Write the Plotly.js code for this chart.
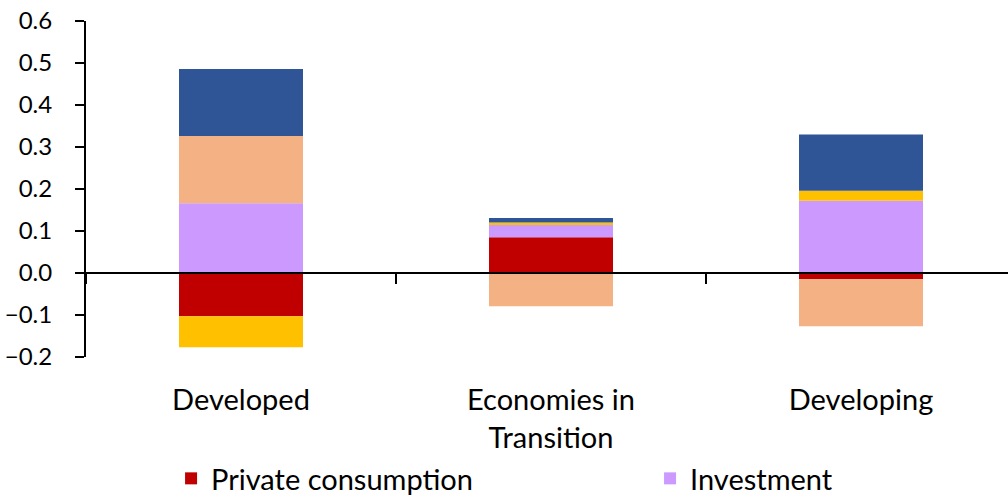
<!DOCTYPE html>
<html>
<head>
<meta charset="utf-8">
<script src="https://cdn.plot.ly/plotly-3.0.1.min.js"></script>
<style>
  html, body { margin: 0; padding: 0; background: #fff; overflow: hidden; }
  #wrap { width: 1008px; height: 497px; overflow: hidden; position: relative; }
  #chart { width: 1172px; height: 540px; }
</style>
</head>
<body>
<div id="wrap"><div id="chart"></div></div>
<script>
const categories = ['Developed', 'Economies in<br>Transition', 'Developing'];
const privateConsumption = [-0.103, 0.085, -0.015];
const investment = [0.166, 0.029, 0.172];
const governmentConsumption = [-0.074, 0.006, 0.024];
const exportsSeries = [0.160, -0.079, -0.112];
const importsSeries = [0.160, 0.011, 0.134];
const yTickVals = [-0.2, -0.1, 0.0, 0.1, 0.2, 0.3, 0.4, 0.5, 0.6];

const seriesNames = ['Private consumption', 'Investment', 'Government consumption', 'Exports', 'Imports'];
const seriesColors = ['#C00000', '#CC99FF', '#FFC000', '#F4B183', '#2F5597'];
const seriesValues = [privateConsumption, investment, governmentConsumption, exportsSeries, importsSeries];
// Only the first legend row is visible in the (cropped) reference
const seriesInLegend = [true, true, false, false, false];

const traces = seriesValues.map((vals, i) => ({
  type: 'bar',
  name: seriesNames[i],
  x: categories,
  y: vals,
  showlegend: seriesInLegend[i],
  marker: { color: seriesColors[i], line: { width: 0 } },
  hoverinfo: 'skip'
}));

const FONT = 'Lato, "Open Sans", sans-serif';

const layout = {
  width: 1172,
  height: 540,
  margin: { l: 86, r: 1, t: 21, b: 183 },
  barmode: 'relative',
  bargap: 0.6,
  paper_bgcolor: '#ffffff',
  plot_bgcolor: '#ffffff',
  font: { family: FONT, color: '#000000', size: 24 },
  showlegend: true,
  legend: {
    orientation: 'h',
    x: 0.0784,
    xanchor: 'left',
    y: -0.2857,
    yanchor: 'top',
    entrywidth: 434,
    entrywidthmode: 'pixels',
    font: { family: FONT, size: 29, color: '#000000' },
    traceorder: 'normal',
    bgcolor: 'rgba(0,0,0,0)'
  },
  xaxis: {
    type: 'category',
    categoryorder: 'array',
    categoryarray: categories,
    range: [-0.5, 3.0],
    anchor: 'free',
    position: 0.25,
    showline: true,
    linecolor: '#000000',
    linewidth: 2,
    ticks: 'outside',
    tickson: 'boundaries',
    ticklen: 10,
    tickwidth: 2,
    tickcolor: '#000000',
    ticklabelstandoff: 101,
    showgrid: false,
    zeroline: false,
    tickfont: { family: FONT, size: 29, color: '#000000' },
    fixedrange: true
  },
  yaxis: {
    range: [-0.2, 0.6],
    tickmode: 'array',
    tickvals: yTickVals,
    tickformat: '.1f',
    showline: true,
    linecolor: '#000000',
    linewidth: 2,
    ticks: 'outside',
    ticklen: 9,
    tickwidth: 2,
    tickcolor: '#000000',
    ticklabelstandoff: 18,
    showgrid: false,
    zeroline: false,
    tickfont: { family: FONT, size: 24, color: '#000000' },
    fixedrange: true
  }
};

Plotly.newPlot('chart', traces, layout, { displayModeBar: false, staticPlot: true });
</script>
</body>
</html>
